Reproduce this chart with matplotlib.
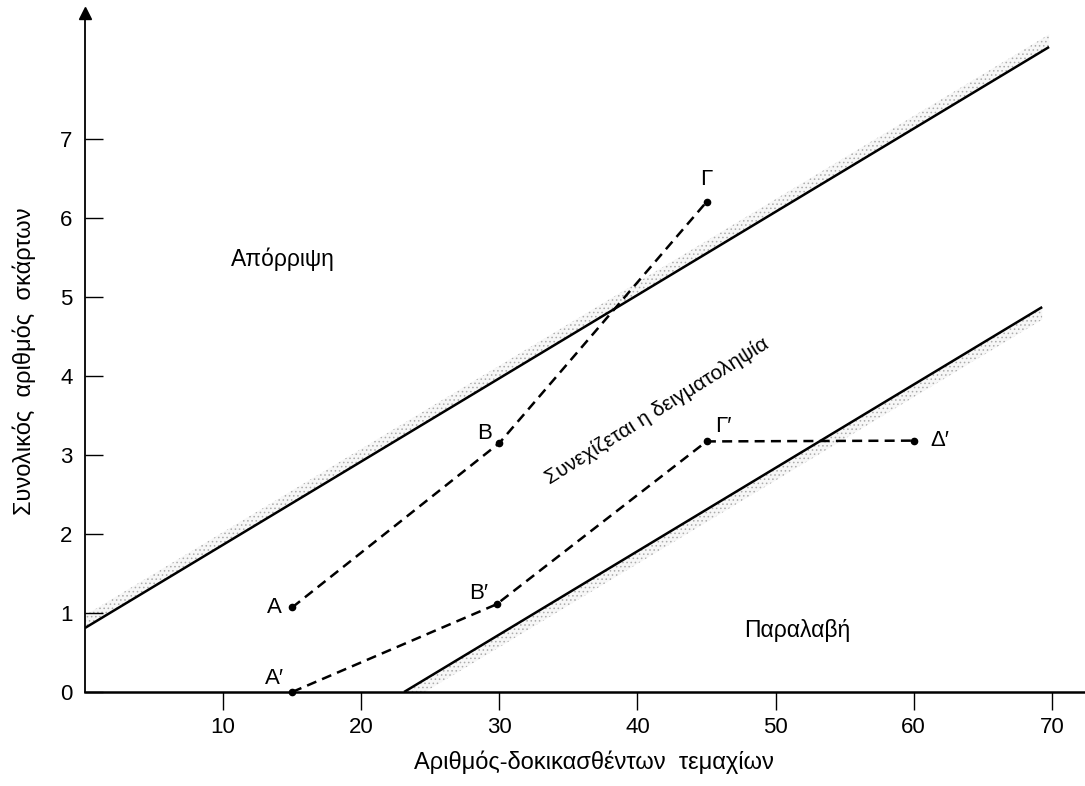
import numpy as np
import matplotlib
matplotlib.use("Agg")
import matplotlib.pyplot as plt

plt.rcParams['font.family'] = ['Liberation Sans', 'DejaVu Sans']
plt.rcParams['hatch.linewidth'] = 0.6

# ---- data ----
upper_x = [0.0, 69.8]
upper_y = [0.81, 8.16]
lower_x = [23.1, 69.3]
lower_y = [0.0, 4.87]

path1_x = [15, 30, 45]
path1_y = [1.07, 3.15, 6.2]
path1_labels = ["A", "B", "Γ"]

path2_x = [15, 29.8, 45, 60]
path2_y = [0.0, 1.11, 3.17, 3.18]
path2_labels = ["A\u2032", "B\u2032", "Γ\u2032", "Δ\u2032"]

xticks = [10, 20, 30, 40, 50, 60, 70]
yticks = [0, 1, 2, 3, 4, 5, 6, 7]

region_labels = ["Απόρριψη", "Συνεχίζεται η δειγματοληψία", "Παραλαβή"]
xlabel = "Αριθμός-δοκικασθέντων  τεμαχίων"
ylabel = "Συνολικός  αριθμός  σκάρτων"

# ---- figure ----
W, H = 1085, 786
fig = plt.figure(figsize=(W / 100, H / 100), dpi=100)
ax = fig.add_axes([85 / W, (H - 692) / H, 1000 / W, 679 / H])
ax.set_xlim(0, 72.4)
ax.set_ylim(0, 8.59)

for s in ['top', 'right']:
    ax.spines[s].set_visible(False)
ax.spines['left'].set_linewidth(1.3)
ax.spines['bottom'].set_linewidth(1.8)
ax.plot(0, 1, marker='^', color='black', markersize=8, transform=ax.transAxes,
        clip_on=False)

ax.set_xticks(xticks)
ax.set_yticks(yticks)
ax.tick_params(axis='x', direction='out', length=13, width=1.0, labelsize=16, pad=5)
ax.tick_params(axis='y', direction='in', length=13, width=1.0, labelsize=16, pad=9)

# shaded bands
band = 0.16
xu = np.linspace(upper_x[0], upper_x[1], 200)
yu = np.interp(xu, upper_x, upper_y)
ax.fill_between(xu, yu, yu + band, facecolor='#f7f7f7', edgecolor='#ababab',
                hatch='....', linewidth=0)
xl = np.linspace(lower_x[0], lower_x[1], 200)
yl = np.interp(xl, lower_x, lower_y)
ax.fill_between(xl, np.maximum(yl - band, 0), yl, facecolor='#f7f7f7',
                edgecolor='#ababab', hatch='....', linewidth=0)

ax.plot(upper_x, upper_y, color='black', lw=1.8, solid_capstyle='butt')
ax.plot(lower_x, lower_y, color='black', lw=1.8, solid_capstyle='butt')

# dashed paths
ax.plot(path1_x, path1_y, color='black', lw=1.8, ls=(0, (4, 2.5)),
        marker='o', markersize=4.5, clip_on=False)
ax.plot(path2_x, path2_y, color='black', lw=1.8, ls=(0, (4, 2.5)),
        marker='o', markersize=4.5, clip_on=False)

offs1 = [(-13, 0), (-11, 7), (0, 16)]
for x, y, t, o in zip(path1_x, path1_y, path1_labels, offs1):
    ax.annotate(t, (x, y), xytext=o, textcoords='offset points',
                ha='center', va='center', fontsize=16)
offs2 = [(-13, 10), (-13, 8), (12, 11), (19, 0)]
for x, y, t, o in zip(path2_x, path2_y, path2_labels, offs2):
    ax.annotate(t, (x, y), xytext=o, textcoords='offset points',
                ha='center', va='center', fontsize=16)

ax.text(14.3, 5.47, region_labels[0], ha='center', va='center', fontsize=16.5)
ax.text(41.4, 3.55, region_labels[1], ha='center', va='center', fontsize=15,
        rotation=32, rotation_mode='anchor')
ax.text(51.6, 0.78, region_labels[2], ha='center', va='center', fontsize=16.5)

fig.text(594 / W, 1 - 762 / H, xlabel, ha='center', va='center', fontsize=17)
fig.text(24 / W, 1 - 361 / H, ylabel, ha='center', va='center', fontsize=17,
         rotation=90)

fig.savefig("out.png", dpi=100)
